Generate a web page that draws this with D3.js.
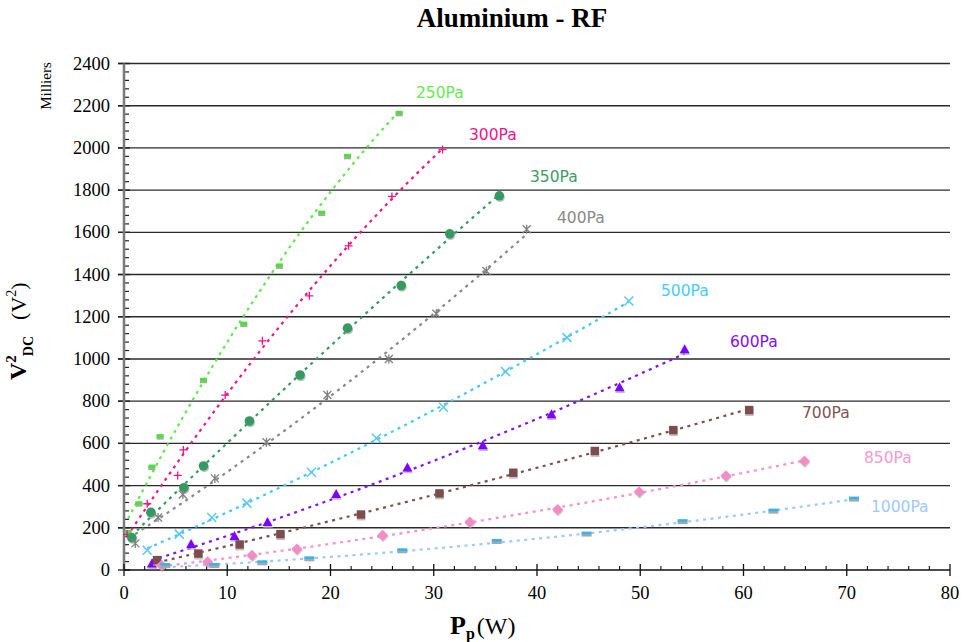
<!DOCTYPE html>
<html><head><meta charset="utf-8">
<script src="https://cdn.jsdelivr.net/npm/d3@7"></script>
<style>body{margin:0;background:#fff}</style>
</head><body>
<svg id="chart" width="963" height="642"></svg>
<script>
// ---- data ----
const xTicks = [0,10,20,30,40,50,60,70,80];
const yTicks = [0,200,400,600,800,1000,1200,1400,1600,1800,2000,2200,2400];

const x250 = [0.4,1.45,2.7,3.5,7.7,11.6,15.05,19.15,21.65,26.65];
const y250 = [178,314,488,632,899,1165,1441,1691,1960,2164];
const x300 = [0.3,2.25,5.2,5.75,9.8,13.4,17.95,21.75,25.95,30.85];
const y300 = [169,314,448,569,829,1086,1299,1536,1770,1992];
const x350 = [0.75,2.6,5.8,7.7,12.15,17.05,21.65,26.85,31.55,36.35];
const y350 = [153,273,390,493,706,924,1146,1348,1593,1773];
const x400 = [1.1,3.3,5.7,8.8,13.8,19.7,25.65,30.25,35.1,39.0];
const y400 = [126,249,358,434,605,829,1000,1214,1417,1615];
const x500 = [2.25,5.35,8.5,11.9,18.15,24.45,30.95,36.95,42.9,48.9];
const y500 = [94,170,249,317,463,624,771,940,1101,1275];
const x600 = [2.7,6.5,10.7,13.9,20.55,27.45,34.75,41.4,48.0,54.3];
const y600 = [31,123,161,227,360,486,591,738,866,1046];
const x700 = [3.2,7.2,11.2,15.15,22.95,30.55,37.7,45.6,53.2,60.55];
const y700 = [47,78,121,170,263,363,461,564,663,758];
const x850 = [3.65,8.1,12.4,16.75,25.05,33.5,42.0,49.9,58.3,65.9];
const y850 = [23,39,70,99,165,228,287,371,447,516];
const x1000 = [4.0,8.75,13.4,17.95,26.95,36.1,44.8,54.1,62.9,70.7];
const y1000 = [21,21,34,53,91,135,170,229,279,336];

const seriesLabels = ["250Pa","300Pa","350Pa","400Pa","500Pa","600Pa","700Pa","850Pa","1000Pa"];

// ---- styles ----
const series = [
  {name:"250Pa", xs:x250, ys:y250, line:"#5fe84a", mark:"#4ee03a", label:"#66ea50", shape:"rect", lx:416, ly:98},
  {name:"300Pa", xs:x300, ys:y300, line:"#ee1488", mark:"#ee1488", label:"#ee1488", shape:"plus", lx:469, ly:140},
  {name:"350Pa", xs:x350, ys:y350, line:"#359a62", mark:"#359a62", label:"#3d9c66", shape:"circle", lx:530, ly:182},
  {name:"400Pa", xs:x400, ys:y400, line:"#888888", mark:"#808080", label:"#8a8a8a", shape:"star", lx:557, ly:223},
  {name:"500Pa", xs:x500, ys:y500, line:"#3fcaf6", mark:"#5cc8ee", label:"#44ccfa", shape:"x", lx:661, ly:296},
  {name:"600Pa", xs:x600, ys:y600, line:"#7f10f8", mark:"#7f00ff", label:"#8010f8", shape:"tri", lx:730, ly:347},
  {name:"700Pa", xs:x700, ys:y700, line:"#7d5050", mark:"#7d4d4d", label:"#7d5555", shape:"square", lx:802, ly:418},
  {name:"850Pa", xs:x850, ys:y850, line:"#f792c9", mark:"#f38cc4", label:"#f899cf", shape:"diamond", lx:864, ly:463},
  {name:"1000Pa", xs:x1000, ys:y1000, line:"#9cc8ff", mark:"#33b4ee", label:"#a0c8ff", shape:"dash", lx:871, ly:512}
];

const svg = d3.select("#chart");
const x = d3.scaleLinear().domain([0,80]).range([124,950]);
const y = d3.scaleLinear().domain([0,2400]).range([570,63.5]);

// gridlines
svg.append("g").selectAll("line").data(yTicks.filter(d=>d>0)).join("line")
  .attr("x1",118).attr("x2",950).attr("y1",d=>y(d)).attr("y2",d=>y(d))
  .attr("stroke","#2a2a2a").attr("stroke-width",1.4);

// y minor ticks
const yMinor = d3.range(0,2401,40).filter(d=>d%200!==0);
svg.append("g").selectAll("line").data(yMinor).join("line")
  .attr("x1",124).attr("x2",129).attr("y1",d=>y(d)).attr("y2",d=>y(d))
  .attr("stroke","#222").attr("stroke-width",1.2);
// y major ticks
svg.append("g").selectAll("line").data(yTicks).join("line")
  .attr("x1",118).attr("x2",130).attr("y1",d=>y(d)).attr("y2",d=>y(d))
  .attr("stroke","#222").attr("stroke-width",1.4);
// y axis line
svg.append("line").attr("x1",124).attr("x2",124).attr("y1",y(2400)).attr("y2",y(0))
  .attr("stroke","#7a7a7a").attr("stroke-width",2.5);

// x axis
svg.append("line").attr("x1",124).attr("x2",950).attr("y1",y(0)).attr("y2",y(0))
  .attr("stroke","#111").attr("stroke-width",1.4);
const xMinor = d3.range(0,81,2).filter(d=>d%10!==0);
svg.append("g").selectAll("line").data(xMinor).join("line")
  .attr("x1",d=>x(d)).attr("x2",d=>x(d)).attr("y1",y(0)-4).attr("y2",y(0))
  .attr("stroke","#111").attr("stroke-width",1.1);
svg.append("g").selectAll("line").data(xTicks).join("line")
  .attr("x1",d=>x(d)).attr("x2",d=>x(d)).attr("y1",y(0)-6).attr("y2",y(0)+6)
  .attr("stroke","#111").attr("stroke-width",1.3);

// tick labels
svg.append("g").selectAll("text").data(yTicks).join("text")
  .attr("x",110).attr("y",d=>y(d)+6).attr("text-anchor","end")
  .attr("font-family","Liberation Serif, Times New Roman, serif").attr("font-size",18.5)
  .text(d=>d);
svg.append("g").selectAll("text").data(xTicks).join("text")
  .attr("x",d=>x(d)).attr("y",599).attr("text-anchor","middle")
  .attr("font-family","Liberation Serif, Times New Roman, serif").attr("font-size",18.5)
  .text(d=>d);

// quadratic least squares fit
function quadFit(xs, ys){
  let n=xs.length, s=[0,0,0,0,0], t=[0,0,0];
  for(let i=0;i<n;i++){
    const xi=xs[i], yi=ys[i];
    for(let k=0;k<5;k++) s[k]+=Math.pow(xi,k);
    for(let k=0;k<3;k++) t[k]+=yi*Math.pow(xi,k);
  }
  const A=[[s[0],s[1],s[2],t[0]],[s[1],s[2],s[3],t[1]],[s[2],s[3],s[4],t[2]]];
  for(let i=0;i<3;i++){
    let p=i; for(let r=i+1;r<3;r++) if(Math.abs(A[r][i])>Math.abs(A[p][i])) p=r;
    [A[i],A[p]]=[A[p],A[i]];
    for(let r=0;r<3;r++){ if(r===i) continue; const f=A[r][i]/A[i][i];
      for(let c=i;c<4;c++) A[r][c]-=f*A[i][c]; }
  }
  return [A[0][3]/A[0][0], A[1][3]/A[1][1], A[2][3]/A[2][2]];
}

const lineGen = d3.line().x(d=>x(d[0])).y(d=>y(d[1]));
series.forEach(s=>{
  const c = quadFit(s.xs, s.ys);
  const x0 = d3.min(s.xs), x1 = d3.max(s.xs);
  const pts = d3.range(0,101).map(i=>{const xv=x0+(x1-x0)*i/100; return [xv, c[0]+c[1]*xv+c[2]*xv*xv];});
  svg.append("path").attr("d",lineGen(pts)).attr("fill","none")
    .attr("stroke",s.line).attr("stroke-width",2.2).attr("stroke-dasharray","3,4.5");
});

// markers
function drawMarker(g, shape, color, cx, cy){
  const sh = "#a8a8a8";
  if(shape==="rect"){
    g.append("rect").attr("x",cx-3.5).attr("y",cy-1).attr("width",7).attr("height",4).attr("fill",sh);
    g.append("rect").attr("x",cx-3.5).attr("y",cy-2.5).attr("width",7).attr("height",3.5).attr("fill",color);
  } else if(shape==="dash"){
    g.append("rect").attr("x",cx-5).attr("y",cy-0.5).attr("width",10).attr("height",3).attr("fill",sh);
    g.append("rect").attr("x",cx-5).attr("y",cy-2.5).attr("width",10).attr("height",2.6).attr("fill",color);
  } else if(shape==="circle"){
    g.append("circle").attr("cx",cx+0.8).attr("cy",cy+1.5).attr("r",4.8).attr("fill",sh).attr("opacity",0.7);
    g.append("circle").attr("cx",cx).attr("cy",cy).attr("r",4.8).attr("fill",color);
  } else if(shape==="square"){
    g.append("rect").attr("x",cx-4).attr("y",cy-2.5).attr("width",8.5).attr("height",8.5).attr("fill",sh).attr("opacity",0.7);
    g.append("rect").attr("x",cx-4.2).attr("y",cy-4.2).attr("width",8.4).attr("height",8.4).attr("fill",color);
  } else if(shape==="tri"){
    const p = (dx,dy)=>`M${cx+dx},${cy-5+dy}L${cx+5+dx},${cy+4+dy}L${cx-5+dx},${cy+4+dy}Z`;
    g.append("path").attr("d",p(0.5,1.8)).attr("fill",sh).attr("opacity",0.7);
    g.append("path").attr("d",p(0,0)).attr("fill",color);
  } else if(shape==="diamond"){
    const p = (dx,dy)=>`M${cx+dx},${cy-5.5+dy}L${cx+5.5+dx},${cy+dy}L${cx+dx},${cy+5.5+dy}L${cx-5.5+dx},${cy+dy}Z`;
    g.append("path").attr("d",p(0.5,1.5)).attr("fill",sh).attr("opacity",0.6);
    g.append("path").attr("d",p(0,0)).attr("fill",color);
  } else if(shape==="plus"){
    g.append("path").attr("d",`M${cx-4},${cy}H${cx+4}M${cx},${cy-4}V${cy+4}`)
      .attr("stroke",color).attr("stroke-width",1.3).attr("fill","none");
  } else if(shape==="x"){
    g.append("path").attr("d",`M${cx-4.5},${cy-4.5}L${cx+4.5},${cy+4.5}M${cx-4.5},${cy+4.5}L${cx+4.5},${cy-4.5}`)
      .attr("stroke",color).attr("stroke-width",1.5).attr("fill","none");
  } else if(shape==="star"){
    g.append("path").attr("d",`M${cx-4},${cy-4}L${cx+4},${cy+4}M${cx-4},${cy+4}L${cx+4},${cy-4}M${cx},${cy-4.5}V${cy+4.5}`)
      .attr("stroke",color).attr("stroke-width",1.3).attr("fill","none");
  }
}
series.forEach(s=>{
  const g = svg.append("g");
  s.xs.forEach((xv,i)=>drawMarker(g, s.shape, s.mark, x(xv), y(s.ys[i])));
});

// series labels
svg.append("g").selectAll("text").data(series).join("text")
  .attr("x",d=>d.lx).attr("y",d=>d.ly)
  .attr("font-family","DejaVu Sans, Verdana, sans-serif").attr("font-size",15.5)
  .attr("fill",d=>d.label).text((d,i)=>seriesLabels[i]);

// title
svg.append("text").attr("x",512).attr("y",27).attr("text-anchor","middle")
  .attr("font-family","Liberation Serif, Times New Roman, serif").attr("font-weight","bold")
  .attr("font-size",27).text("Aluminium - RF");

// Milliers
svg.append("text").attr("transform","translate(51,86) rotate(-90)").attr("text-anchor","middle")
  .attr("font-family","Liberation Serif, Times New Roman, serif").attr("font-size",15).text("Milliers");

// y title
const yt = svg.append("text").attr("transform","translate(26,380) rotate(-90)")
  .attr("font-family","Liberation Serif, Times New Roman, serif");
yt.append("tspan").attr("font-weight","bold").attr("font-size",24).text("V");
yt.append("tspan").attr("font-weight","bold").attr("font-size",15).attr("dy",-10).text("2");
yt.append("tspan").attr("font-weight","bold").attr("font-size",14).attr("dy",17).attr("dx",-1).text("DC");
yt.append("tspan").attr("font-size",22).attr("dy",-7).attr("dx",16).text("(V");
yt.append("tspan").attr("font-size",14).attr("dy",-10).text("2");
yt.append("tspan").attr("font-size",22).attr("dy",10).text(")");

// x title
const xt = svg.append("text").attr("x",450).attr("y",634)
  .attr("font-family","Liberation Serif, Times New Roman, serif");
xt.append("tspan").attr("font-weight","bold").attr("font-size",26).text("P");
xt.append("tspan").attr("font-weight","bold").attr("font-size",16).attr("dy",5).text("p");
xt.append("tspan").attr("font-size",24).attr("dy",-5).attr("dx",2).text("(W)");
</script>
</body></html>
